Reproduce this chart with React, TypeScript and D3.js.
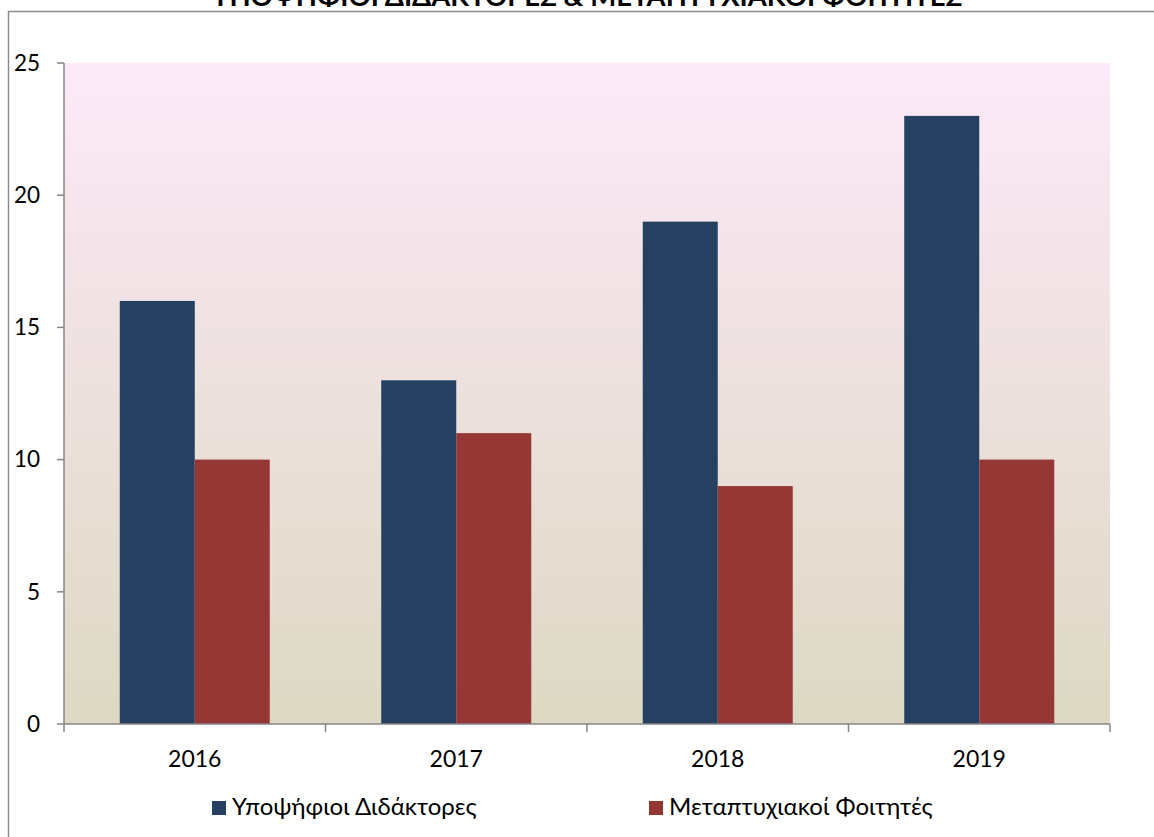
import React from "react";
import * as d3 from "d3";

const categories = ["2016", "2017", "2018", "2019"];
const seriesNames = ["Υποψήφιοι Διδάκτορες", "Μεταπτυχιακοί Φοιτητές"];
const doctoral = [16, 13, 19, 23];
const postgrad = [10, 11, 9, 10];
const yTicks = [0, 5, 10, 15, 20, 25];
const title = "ΥΠΟΨΗΦΙΟΙ ΔΙΔΑΚΤΟΡΕΣ & ΜΕΤΑΠΤΥΧΙΑΚΟΙ ΦΟΙΤΗΤΕΣ";

const colors = ["#254061", "#953735"];
const W = 1154, H = 837;
const L = 64, R = 1110, T = 63, B = 724;
const font = "Lato, 'Open Sans', sans-serif";

export default function App() {
  const x = d3.scaleBand<string>().domain(categories).range([L, R]).paddingInner(0).paddingOuter(0);
  const bw = x.bandwidth();
  const barW = 75;
  const y = d3.scaleLinear().domain([0, 25]).range([B, T]);
  const series = [doctoral, postgrad];
  const axisColor = "#868686";
  return (
    <svg width={W} height={H} style={{ position: "absolute", left: 0, top: 0, background: "#fff" }} fontFamily={font}>
      <defs>
        <linearGradient id="bg" x1="0" y1="0" x2="0" y2="1">
          <stop offset="0" stopColor="#FDE9F8" />
          <stop offset="1" stopColor="#DDD8C3" />
        </linearGradient>
      </defs>
      <rect x={8.5} y={11.5} width={W + 10} height={H + 10} fill="#fff" stroke="#8c8c8c" strokeWidth={1.5} />
      <text x={(L + R) / 2} y={6} textAnchor="middle" fontWeight="bold" fontSize={27.5} fill="#000">{title}</text>
      <rect x={L} y={T} width={R - L} height={B - T} fill="url(#bg)" />
      {categories.map((c, i) => {
        const cx = x(c)! + bw / 2;
        return series.map((s, j) => (
          <rect key={c + j} x={cx - barW + j * barW} y={y(s[i])} width={barW} height={B - y(s[i])} fill={colors[j]} />
        ));
      })}
      <line x1={L} x2={L} y1={T} y2={B} stroke={axisColor} strokeWidth={1.5} />
      {yTicks.map(t => (
        <g key={t}>
          <line x1={57} x2={L} y1={y(t)} y2={y(t)} stroke={axisColor} strokeWidth={1.5} />
          <text x={40} y={y(t)} dy="0.35em" textAnchor="end" fontSize={22.5} fill="#000">{t}</text>
        </g>
      ))}
      <line x1={L} x2={R} y1={B} y2={B} stroke={axisColor} strokeWidth={1.5} />
      {[...categories.map(c => x(c)!), R].map((p, i) => (
        <line key={i} x1={p} x2={p} y1={B} y2={B + 8} stroke={axisColor} strokeWidth={1.5} />
      ))}
      {categories.map(c => (
        <text key={c} x={x(c)! + bw / 2} y={767} textAnchor="middle" fontSize={23} fill="#000">{c}</text>
      ))}
      {seriesNames.map((n, j) => {
        const lx = j === 0 ? 212 : 649;
        return (
          <g key={n}>
            <rect x={lx} y={801} width={14} height={14} fill={colors[j]} />
            <text x={lx + 20} y={815} fontSize={24} fill="#000">{n}</text>
          </g>
        );
      })}
    </svg>
  );
}
